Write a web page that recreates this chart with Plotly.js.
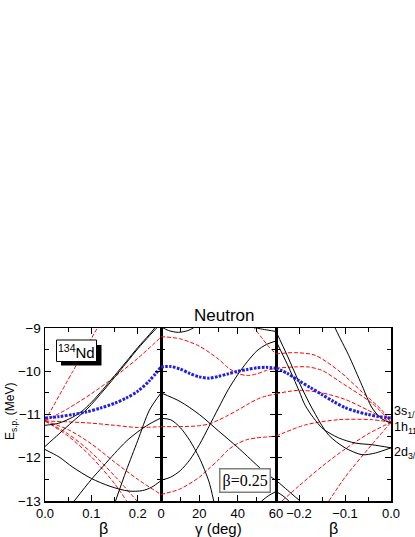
<!DOCTYPE html>
<html>
<head>
<meta charset="utf-8">
<script src="https://cdn.plot.ly/plotly-3.0.1.min.js"></script>
<style>html,body{margin:0;padding:0;background:#fff;}#plot{width:415px;height:537px;}</style>
</head>
<body>
<div id="plot"></div>
<script>
// ---------- Panel 1: beta (prolate, gamma = 0) ----------
const p1_blue_b = [0,0.03,0.06,0.09,0.12,0.15,0.175,0.2,0.225,0.25];
const p1_blue_e = [-11.08,-11.05,-11.0,-10.94,-10.85,-10.74,-10.62,-10.46,-10.22,-9.9];
const p1_K1_b = [0,0.03,0.06,0.08,0.1,0.125,0.15,0.175,0.2,0.225,0.24];
const p1_K1_e = [-11.25,-11.2,-11.06,-10.92,-10.72,-10.42,-10.1,-9.78,-9.45,-9.15,-8.95];
const p1_K2_b = [0,0.03,0.06,0.085,0.1,0.125,0.15,0.175,0.2,0.225,0.245];
const p1_K2_e = [-11.74,-11.45,-11.16,-10.93,-10.77,-10.46,-10.14,-9.81,-9.48,-9.18,-8.95];
const p1_K3_b = [0,0.03,0.06,0.1,0.14,0.18,0.21,0.23,0.25];
const p1_K3_e = [-11.81,-11.98,-12.22,-12.48,-12.66,-12.77,-12.76,-12.68,-12.53];
const p1_Kc_b = [0.152,0.175,0.2,0.225,0.25];
const p1_Kc_e = [-13.0,-12.3,-11.6,-10.9,-10.5];
const p1_Kd_b = [0.063,0.1,0.125,0.15,0.175,0.2,0.225,0.25];
const p1_Kd_e = [-13.0,-12.5,-12.2,-11.9,-11.62,-11.4,-11.22,-11.08];
const p1_R1_b = [0,0.06,0.118];
const p1_R1_e = [-11.15,-10.0,-8.9];
const p1_R2_b = [0,0.05,0.1,0.15,0.2,0.25];
const p1_R2_e = [-11.15,-10.86,-10.52,-10.13,-9.70,-9.21];
const p1_R4_b = [0,0.05,0.1,0.15,0.2,0.25];
const p1_R4_e = [-11.15,-11.17,-11.2,-11.25,-11.3,-11.28];
const p1_Rd1_b = [0,0.05,0.1,0.15,0.2,0.25];
const p1_Rd1_e = [-11.15,-11.35,-11.68,-12.1,-12.5,-12.85];
const p1_Rd2_b = [0,0.05,0.1,0.15,0.2];
const p1_Rd2_e = [-11.15,-11.45,-11.88,-12.42,-13.02];
const p1_Rd3_b = [0,0.05,0.1,0.15,0.176];
const p1_Rd3_e = [-11.15,-11.5,-11.98,-12.6,-13.0];

// ---------- Panel 2: gamma (deg) at beta = 0.25 ----------
const p2_blue_g = [0,5,10,15,20,25,30,35,40,45,50,55,60];
const p2_blue_e = [-9.9,-9.89,-9.95,-10.05,-10.13,-10.16,-10.12,-10.06,-10.0,-9.96,-9.92,-9.91,-9.93];
const p2_Ktop1_g = [0,4,9,14,18];
const p2_Ktop1_e = [-8.97,-9.06,-9.1,-9.06,-8.97];
const p2_Ktop2_g = [48,52,56,60];
const p2_Ktop2_e = [-8.98,-9.02,-9.05,-9.08];
const p2_K3_g = [0,5,10,15,20,25,30,35,40,45,50,55,60];
const p2_K3_e = [-12.52,-12.45,-12.3,-12.05,-11.7,-11.28,-10.85,-10.43,-10.08,-9.78,-9.53,-9.38,-9.3];
const p2_Ka_g = [0,5,10,15,20,25,27.5];
const p2_Ka_e = [-11.09,-11.12,-11.3,-11.6,-12.0,-12.55,-13.0];
const p2_Kb_g = [0,10,20,30,40,50,55,60];
const p2_Kb_e = [-10.5,-10.7,-11.0,-11.38,-11.76,-12.17,-12.37,-12.52];
const p2_Kbr_g = [52.5,56,60];
const p2_Kbr_e = [-13.0,-12.88,-12.78];
const p2_Rtop1_g = [0,10,20,30,35,40,45,50,55,60];
const p2_Rtop1_e = [-9.2,-9.25,-9.42,-9.72,-9.92,-10.05,-10.1,-10.06,-9.98,-9.93];
const p2_Rtop2_g = [48,50,53,56,60];
const p2_Rtop2_e = [-8.95,-9.08,-9.25,-9.42,-9.6];
const p2_Rmid_g = [0,10,20,25,30,35,40,45,50,55,60];
const p2_Rmid_e = [-11.28,-11.28,-11.26,-11.22,-11.13,-11.02,-10.9,-10.77,-10.65,-10.57,-10.53];
const p2_Rlow_g = [0,10,20,25,30,35,40,45,50,55,60];
const p2_Rlow_e = [-12.85,-12.72,-12.45,-12.25,-12.05,-11.82,-11.67,-11.58,-11.54,-11.52,-11.5];

// ---------- Panel 3: beta (oblate) ----------
const p3_blue_b = [-0.25,-0.225,-0.2,-0.175,-0.15,-0.125,-0.1,-0.075,-0.05,-0.025,0];
const p3_blue_e = [-9.93,-10.05,-10.22,-10.38,-10.54,-10.7,-10.84,-10.93,-11.0,-11.05,-11.08];
const p3_Ka_b = [-0.25,-0.225,-0.2,-0.186,-0.15,-0.114,-0.078,-0.041,0];
const p3_Ka_e = [-9.3,-9.85,-10.45,-10.8,-11.31,-11.54,-11.66,-11.7,-11.77];
const p3_Kb_b = [-0.25,-0.225,-0.2,-0.172,-0.136,-0.1,-0.063,-0.034,0];
const p3_Kb_e = [-9.08,-9.65,-10.25,-10.85,-11.47,-11.77,-11.93,-11.89,-11.77];
const p3_Ks_b = [-0.128,-0.11,-0.092,-0.063,-0.041,-0.02,0];
const p3_Ks_e = [-8.86,-9.25,-9.63,-10.33,-10.85,-11.1,-11.2];
const p3_Kbl1_b = [-0.25,-0.225,-0.2];
const p3_Kbl1_e = [-12.52,-12.75,-12.98];
const p3_Kbl2_b = [-0.25,-0.235,-0.222];
const p3_Kbl2_e = [-12.78,-12.88,-13.0];
const p3_Ra_b = [-0.25,-0.21,-0.165,-0.11,-0.063,-0.02,0];
const p3_Ra_e = [-9.6,-9.57,-9.63,-10.02,-10.48,-10.9,-11.18];
const p3_Rb_b = [-0.25,-0.21,-0.18,-0.15,-0.11,-0.04,0];
const p3_Rb_e = [-9.93,-9.9,-9.9,-9.98,-10.25,-10.75,-11.18];
const p3_Rc_b = [-0.25,-0.2,-0.15,-0.1,-0.05,0];
const p3_Rc_e = [-10.52,-10.44,-10.5,-10.65,-10.9,-11.18];
const p3_Rd_b = [-0.25,-0.186,-0.114,-0.041,0];
const p3_Rd_e = [-11.5,-11.24,-11.12,-11.12,-11.18];
const p3_Re_b = [-0.237,-0.2,-0.15,-0.1,-0.05,0];
const p3_Re_e = [-13.0,-12.65,-12.2,-11.8,-11.45,-11.18];
const p3_Rf_b = [-0.135,-0.1,-0.05,0];
const p3_Rf_e = [-13.0,-12.45,-11.8,-11.18];

// tick labels / texts
const yTickVals = [-13,-12,-11,-10,-9];
const levelLabels = ["3s<sub>1/2</sub>","1h<sub>11/2</sub>","2d<sub>3/2</sub>"];

const BLACK = {color:'#000000', width:1, shape:'spline', smoothing:0.8};
const RED = {color:'#ff0000', width:1, dash:'4px,2px', shape:'spline', smoothing:0.8};
const BLUE = {color:'#1e1ee6', width:3, dash:'2.6px,1.4px', shape:'spline', smoothing:0.8};

function tr(x, y, style, ax){
  return {x:x, y:y, mode:'lines', line:style, xaxis:ax[0], yaxis:ax[1], hoverinfo:'skip', showlegend:false};
}
const A1=['x','y'], A2=['x2','y2'], A3=['x3','y3'];
const data = [
  tr(p1_R1_b,p1_R1_e,RED,A1), tr(p1_R2_b,p1_R2_e,RED,A1), tr(p1_R4_b,p1_R4_e,RED,A1),
  tr(p1_Rd1_b,p1_Rd1_e,RED,A1), tr(p1_Rd2_b,p1_Rd2_e,RED,A1), tr(p1_Rd3_b,p1_Rd3_e,RED,A1),
  tr(p1_K1_b,p1_K1_e,BLACK,A1), tr(p1_K2_b,p1_K2_e,BLACK,A1), tr(p1_K3_b,p1_K3_e,BLACK,A1),
  tr(p1_Kc_b,p1_Kc_e,BLACK,A1), tr(p1_Kd_b,p1_Kd_e,BLACK,A1),
  tr(p1_blue_b,p1_blue_e,BLUE,A1),

  tr(p2_Rtop1_g,p2_Rtop1_e,RED,A2), tr(p2_Rtop2_g,p2_Rtop2_e,RED,A2),
  tr(p2_Rmid_g,p2_Rmid_e,RED,A2), tr(p2_Rlow_g,p2_Rlow_e,RED,A2),
  tr(p2_Ktop1_g,p2_Ktop1_e,BLACK,A2), tr(p2_Ktop2_g,p2_Ktop2_e,BLACK,A2),
  tr(p2_K3_g,p2_K3_e,BLACK,A2), tr(p2_Ka_g,p2_Ka_e,BLACK,A2), tr(p2_Kb_g,p2_Kb_e,BLACK,A2),
  tr(p2_Kbr_g,p2_Kbr_e,BLACK,A2),
  tr(p2_blue_g,p2_blue_e,BLUE,A2),

  tr(p3_Ra_b,p3_Ra_e,RED,A3), tr(p3_Rb_b,p3_Rb_e,RED,A3), tr(p3_Rc_b,p3_Rc_e,RED,A3),
  tr(p3_Rd_b,p3_Rd_e,RED,A3), tr(p3_Re_b,p3_Re_e,RED,A3), tr(p3_Rf_b,p3_Rf_e,RED,A3),
  tr(p3_Ka_b,p3_Ka_e,BLACK,A3), tr(p3_Kb_b,p3_Kb_e,BLACK,A3), tr(p3_Ks_b,p3_Ks_e,BLACK,A3),
  tr(p3_Kbl1_b,p3_Kbl1_e,BLACK,A3), tr(p3_Kbl2_b,p3_Kbl2_e,BLACK,A3),
  tr(p3_blue_b,p3_blue_e,BLUE,A3)
];

const FONT = 'Arial, "Liberation Sans", sans-serif';
const d1 = 116/346, d2 = 231/346;
function xax(dom, range, dtick, tick0, minorD, fmt){
  return {domain:dom, range:range, showline:true, linecolor:'#000', linewidth:1.5,
    mirror:'ticks', ticks:'inside', ticklen:6, tickwidth:1, tickcolor:'#000', dtick:dtick, tick0:tick0,
    tickformat:fmt, showgrid:false, zeroline:false, tickfont:{family:FONT,size:13,color:'#000'},
    minor:{ticks:'inside', ticklen:4, dtick:minorD, tick0:tick0, tickcolor:'#000', showgrid:false}};
}
function yax(anchor, labels){
  return {range:[-13,-9], anchor:anchor, showline:true, linecolor:'#000', linewidth:1.5, mirror:'ticks',
    ticks:'inside', ticklen:6, tickwidth:1, tickcolor:'#000', tickvals:yTickVals, showticklabels:labels,
    showgrid:false, zeroline:false, tickfont:{family:FONT,size:13.5,color:'#000'},
    minor:{ticks:'inside', ticklen:4, dtick:0.5, tick0:-13, tickcolor:'#000', showgrid:false}};
}
const xa1 = xax([0,d1],[0,0.25],0.1,0,0.05,'.1f'); xa1.anchor='y';
const xa2 = xax([d1,d2],[0,60],20,0,10,'d'); xa2.anchor='y2';
const xa3 = xax([d2,1],[-0.25,0],0.1,0,0.05,'.1f'); xa3.anchor='y3';

function px2x(px){ return (px-45)/346; }
function py2y(py){ return (501-py)/173; }
function ann(text, px, py, size, extra){
  const a = {text:text, xref:'paper', yref:'paper', x:px2x(px), y:py2y(py), xanchor:'center', yanchor:'middle',
    showarrow:false, font:{family:FONT,size:size,color:'#000'}};
  return Object.assign(a, extra||{});
}

const layout = {
  width:415, height:537, margin:{l:45, r:24, t:328, b:36}, paper_bgcolor:'#fff', plot_bgcolor:'#fff',
  showlegend:false,
  xaxis:xa1, xaxis2:xa2, xaxis3:xa3,
  yaxis:yax('x',true), yaxis2:yax('x2',false), yaxis3:yax('x3',false),
  shapes:[
    {type:'rect', xref:'paper', yref:'paper', x0:px2x(61), x1:px2x(101.5), y0:py2y(365.5), y1:py2y(345), fillcolor:'#000', line:{width:0}, layer:'above'},
    {type:'rect', xref:'paper', yref:'paper', x0:px2x(56.5), x1:px2x(96.5), y0:py2y(361.5), y1:py2y(340), fillcolor:'#fff', line:{color:'#000', width:1}, layer:'above'}
  ],
  annotations:[
    ann('Neutron', 224, 315, 17),
    ann('<sup>134</sup>Nd', 76.5, 351, 15),
    ann('β=0.25', 245, 480.5, 16, {bgcolor:'#fff', bordercolor:'#7f7f7f', borderwidth:1.5, borderpad:2,
      font:{family:'"Times New Roman","Liberation Serif",serif',size:16,color:'#000'}}),
    ann(levelLabels[0], 392, 412, 12.5, {xanchor:'left'}),
    ann(levelLabels[1], 392, 428, 12.5, {xanchor:'left'}),
    ann(levelLabels[2], 392, 453, 12.5, {xanchor:'left'}),
    ann('β', 103, 528, 16),
    ann('γ (deg)', 218, 528, 15),
    ann('β', 333, 528, 16),
    ann('E<sub>s.p.</sub> (MeV)', 11, 411, 12, {textangle:-90})
  ]
};
Plotly.newPlot('plot', data, layout, {staticPlot:true, displayModeBar:false});
</script>
</body>
</html>
